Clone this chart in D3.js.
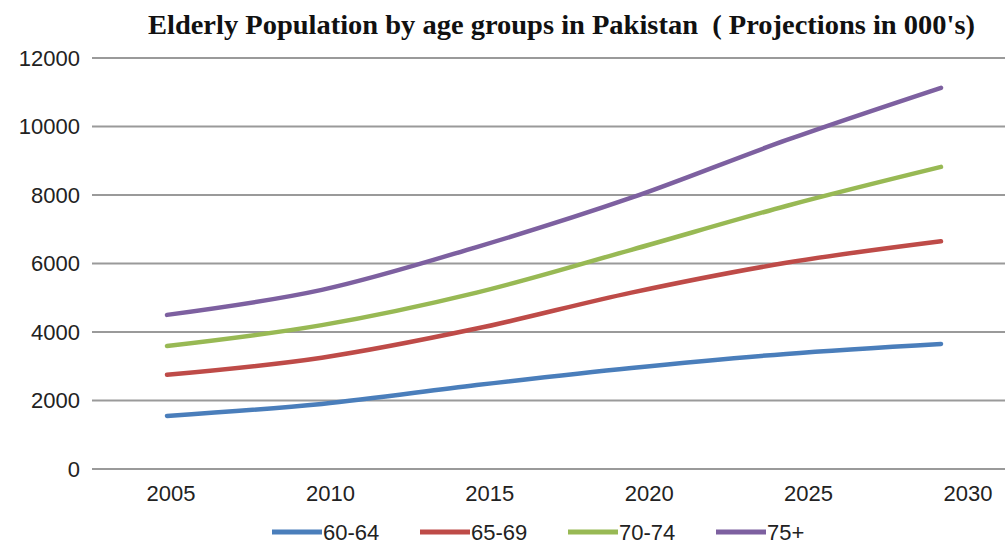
<!DOCTYPE html>
<html>
<head>
<meta charset="utf-8">
<script src="https://cdn.jsdelivr.net/npm/d3@7"></script>
<style>
html,body{margin:0;padding:0;background:#fff;}
svg{display:block;}
</style>
</head>
<body>
<svg id="chart" width="1005" height="546"></svg>
<script>
const years = [2005, 2010, 2015, 2020, 2025, 2030];
const tickLabels = ["2005", "2010", "2015", "2020", "2025", "2030"];
const yTicks = [0, 2000, 4000, 6000, 8000, 10000, 12000];
const seriesNames = ["60-64", "65-69", "70-74", "75+"];
const s6064 = [1550, 1900, 2450, 2950, 3360, 3650];
const s6569 = [2750, 3250, 4100, 5150, 6020, 6650];
const s7074 = [3590, 4200, 5150, 6400, 7680, 8820];
const s75p  = [4500, 5230, 6480, 7920, 9600, 11130];
const colors = ["#4a7ebb", "#be4b48", "#98b954", "#7d60a0"];

const svg = d3.select("#chart");
const W = 1005, H = 546;

const x = d3.scaleLinear().domain([2005, 2030]).range([167, 941]);
const xLab = d3.scaleLinear().domain([2005, 2030]).range([171, 968]);
const y = d3.scaleLinear().domain([0, 12000]).range([469, 58]);

// gridlines
svg.append("g").selectAll("line").data(yTicks).join("line")
  .attr("x1", 92).attr("x2", W)
  .attr("y1", d => y(d)).attr("y2", d => y(d))
  .attr("stroke", "#9a9a9a").attr("stroke-width", 2.2);

// y labels
svg.append("g").selectAll("text").data(yTicks).join("text")
  .attr("x", 80).attr("y", d => y(d)).attr("dy", "0.35em")
  .attr("text-anchor", "end")
  .attr("font-family", "Liberation Sans, Arial, sans-serif")
  .attr("font-size", 22).attr("fill", "#222")
  .text(d => d);

// x labels
svg.append("g").selectAll("text").data(years).join("text")
  .attr("x", d => xLab(d)).attr("y", 493).attr("dy", "0.35em")
  .attr("text-anchor", "middle")
  .attr("font-family", "Liberation Sans, Arial, sans-serif")
  .attr("font-size", 22).attr("fill", "#222")
  .text((d, i) => tickLabels[i]);

// title
svg.append("text")
  .attr("x", 148).attr("y", 34)
  .style("white-space", "pre")
  .attr("font-family", "Liberation Serif, Times New Roman, serif")
  .attr("font-weight", "bold").attr("font-size", 27).attr("fill", "#111")
  .attr("textLength", 827).attr("lengthAdjust", "spacingAndGlyphs")
  .text("Elderly Population by age groups in Pakistan  ( Projections in 000's)");

// lines
const allSeries = [s6064, s6569, s7074, s75p];
const line = d3.line().x((d, i) => x(years[i])).y(d => y(d)).curve(d3.curveCatmullRom.alpha(0.5));
svg.append("g").selectAll("path").data(allSeries).join("path")
  .attr("d", d => line(d))
  .attr("fill", "none")
  .attr("stroke", (d, i) => colors[i])
  .attr("stroke-width", 4.5)
  .attr("stroke-linecap", "round");

// legend
const legX = [272, 420, 568, 716];
const leg = svg.append("g").selectAll("g").data(seriesNames).join("g")
  .attr("transform", (d, i) => `translate(${legX[i]},532)`);
leg.append("line").attr("x1", 0).attr("x2", 50).attr("y1", 0).attr("y2", 0)
  .attr("stroke", (d, i) => colors[i]).attr("stroke-width", 5);
leg.append("text").attr("x", 51).attr("dy", "0.35em")
  .attr("font-family", "Liberation Sans, Arial, sans-serif")
  .attr("font-size", 22).attr("fill", "#222")
  .text(d => d);
</script>
</body>
</html>
